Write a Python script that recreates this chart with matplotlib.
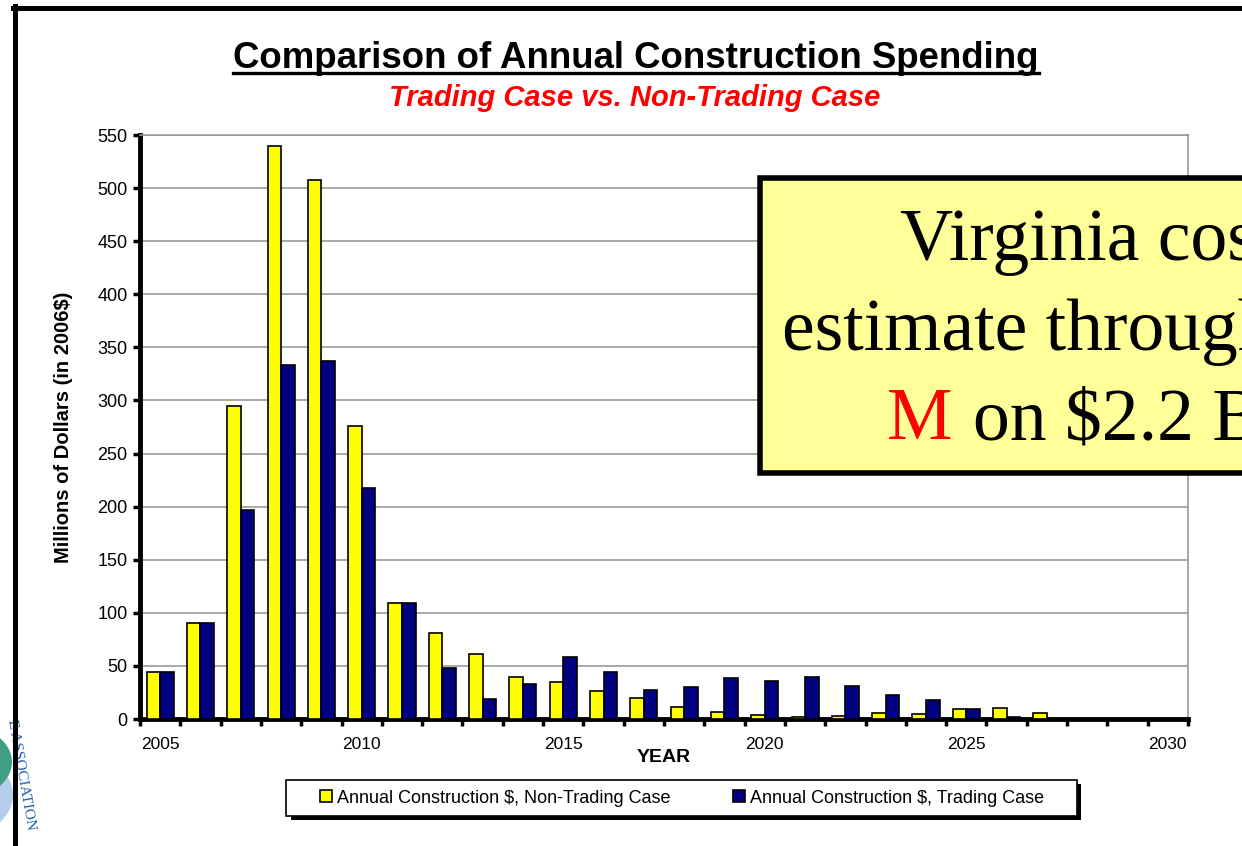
import numpy as np
import matplotlib
matplotlib.use('Agg')
import matplotlib.pyplot as plt
from matplotlib.lines import Line2D
from matplotlib.patches import Rectangle, Circle

plt.rcParams['font.family'] = ['Liberation Sans', 'DejaVu Sans']

# data (millions of 2006 dollars)
years = list(range(2005, 2031))
non_trading = [44, 90, 295, 540, 508, 276, 109, 81, 61, 40, 35, 26, 20, 11, 7, 4,
               2, 3, 6, 5, 9, 10, 6, 0, 0, 0]
trading = [44, 90, 197, 333, 337, 218, 109, 48, 19, 33, 58, 44, 27, 30, 39, 36,
           40, 31, 23, 18, 9, 2, 0, 0, 0, 0]
year_labels = ['2005', '2010', '2015', '2020', '2025', '2030']
y_ticks = list(range(0, 551, 50))

W, H = 1242, 846
fig = plt.figure(figsize=(W / 100, H / 100), dpi=100)


def fx(x):
    return x / W


def fy(y):
    return 1 - y / H


ax = fig.add_axes([fx(140), fy(719), fx(1188) - fx(140), fy(135) - fy(719)])

idx = np.arange(len(years))
bw = 0.335
ax.bar(idx - bw / 2, non_trading, bw, color='#ffff00', edgecolor='black', linewidth=1.2,
       label='Annual Construction \\$, Non-Trading Case', zorder=3)
ax.bar(idx + bw / 2, trading, bw, color='#000080', edgecolor='black', linewidth=1.2,
       label='Annual Construction \\$, Trading Case', zorder=3)

ax.set_xlim(-0.5, len(years) - 0.5)
ax.set_ylim(0, 550)
ax.set_yticks(y_ticks)
ax.yaxis.grid(True, color='#999999', linewidth=1.2, zorder=0)
ax.set_axisbelow(True)

# labels centred on categories, tick marks between categories
ax.set_xticks([years.index(int(y)) for y in year_labels])
ax.set_xticklabels(year_labels)
ax.set_xticks(np.arange(-0.5, len(years)), minor=True)
ax.tick_params(axis='x', which='major', length=0, pad=13, labelsize=12.5)
ax.tick_params(axis='x', which='minor', length=5, width=2.5, direction='out')
ax.tick_params(axis='y', length=5, width=2.5, direction='out', labelsize=13, pad=4)

for s in ['left', 'bottom']:
    ax.spines[s].set_linewidth(3.5)
    ax.spines[s].set_color('black')
for s in ['top', 'right']:
    ax.spines[s].set_linewidth(1.2)
    ax.spines[s].set_color('#999999')

ax.set_xlabel('YEAR', fontsize=14, fontweight='bold')
ax.xaxis.set_label_coords(0.5, -0.052)
ax.set_ylabel('Millions of Dollars (in 2006$)', fontsize=14.5, fontweight='bold')
ax.yaxis.set_label_coords(-0.064, 0.5)

# legend: entries without frame, frame + black drop shadow drawn by hand
fig.add_artist(Rectangle((fx(291), fy(820)), fx(1081) - fx(291), fy(784) - fy(820),
                         facecolor='black', edgecolor='none', zorder=2))
fig.add_artist(Rectangle((fx(286), fy(816)), fx(1077) - fx(286), fy(780) - fy(816),
                         facecolor='white', edgecolor='black', linewidth=1.2, zorder=3))
leg = fig.legend(loc='center', bbox_to_anchor=(fx(682), fy(798)), ncol=2, fontsize=13,
                 frameon=False, handlelength=0.65, handleheight=0.65,
                 handletextpad=0.25, columnspacing=3.5, borderpad=0.2)
leg.set_zorder(4)

# titles
title = fig.text(fx(636), fy(68), 'Comparison of Annual Construction Spending', ha='center',
                 va='baseline', fontsize=26.4, fontweight='bold')
fig.text(fx(635), fy(106), 'Trading Case vs. Non-Trading Case', ha='center', va='baseline',
         fontsize=21, fontweight='bold', style='italic', color='#ff0000')

fig.canvas.draw()
bb = title.get_window_extent()
fig.add_artist(Line2D([bb.x0 / W, bb.x1 / W], [fy(73), fy(73)], color='black', linewidth=2.4))

# callout box running off the right edge
fig.add_artist(Rectangle((fx(760), fy(473)), fx(600), fy(178) - fy(473), facecolor='#ffff99',
                         edgecolor='black', linewidth=4, zorder=5))
fig.text(fx(900), fy(260), 'Virginia cost', fontsize=53, family='Liberation Serif',
         va='baseline', zorder=6)
fig.text(fx(782), fy(350), 'estimate through', fontsize=53, family='Liberation Serif',
         va='baseline', zorder=6)
fig.text(fx(887), fy(439), 'M', fontsize=53, family='Liberation Serif', color='#ff0000',
         va='baseline', zorder=6)
fig.text(fx(973), fy(439), 'on \\$2.2 B', fontsize=53, family='Liberation Serif',
         va='baseline', zorder=6)

# partial logo at bottom left
fig.add_artist(Circle((fx(-55), fy(795)), 68 / W, transform=fig.transFigure,
                      facecolor='#b4cdea', edgecolor='none', zorder=1))
fig.add_artist(Circle((fx(-45), fy(762)), 57 / W, transform=fig.transFigure,
                      facecolor='#3f9e84', edgecolor='none', zorder=1))
fig.text(fx(21), fy(775), 'E ASSOCIATION', fontsize=11, family='Liberation Serif',
         color='#2060b0', rotation=-80, ha='center', va='center', zorder=2)

# page frame
fig.add_artist(Line2D([fx(13), 1], [fy(8), fy(8)], color='black', linewidth=3.6, zorder=7))
fig.add_artist(Line2D([fx(15), fx(15)], [fy(6), 0], color='black', linewidth=3.6, zorder=7))

fig.savefig('out.png', dpi=100)
